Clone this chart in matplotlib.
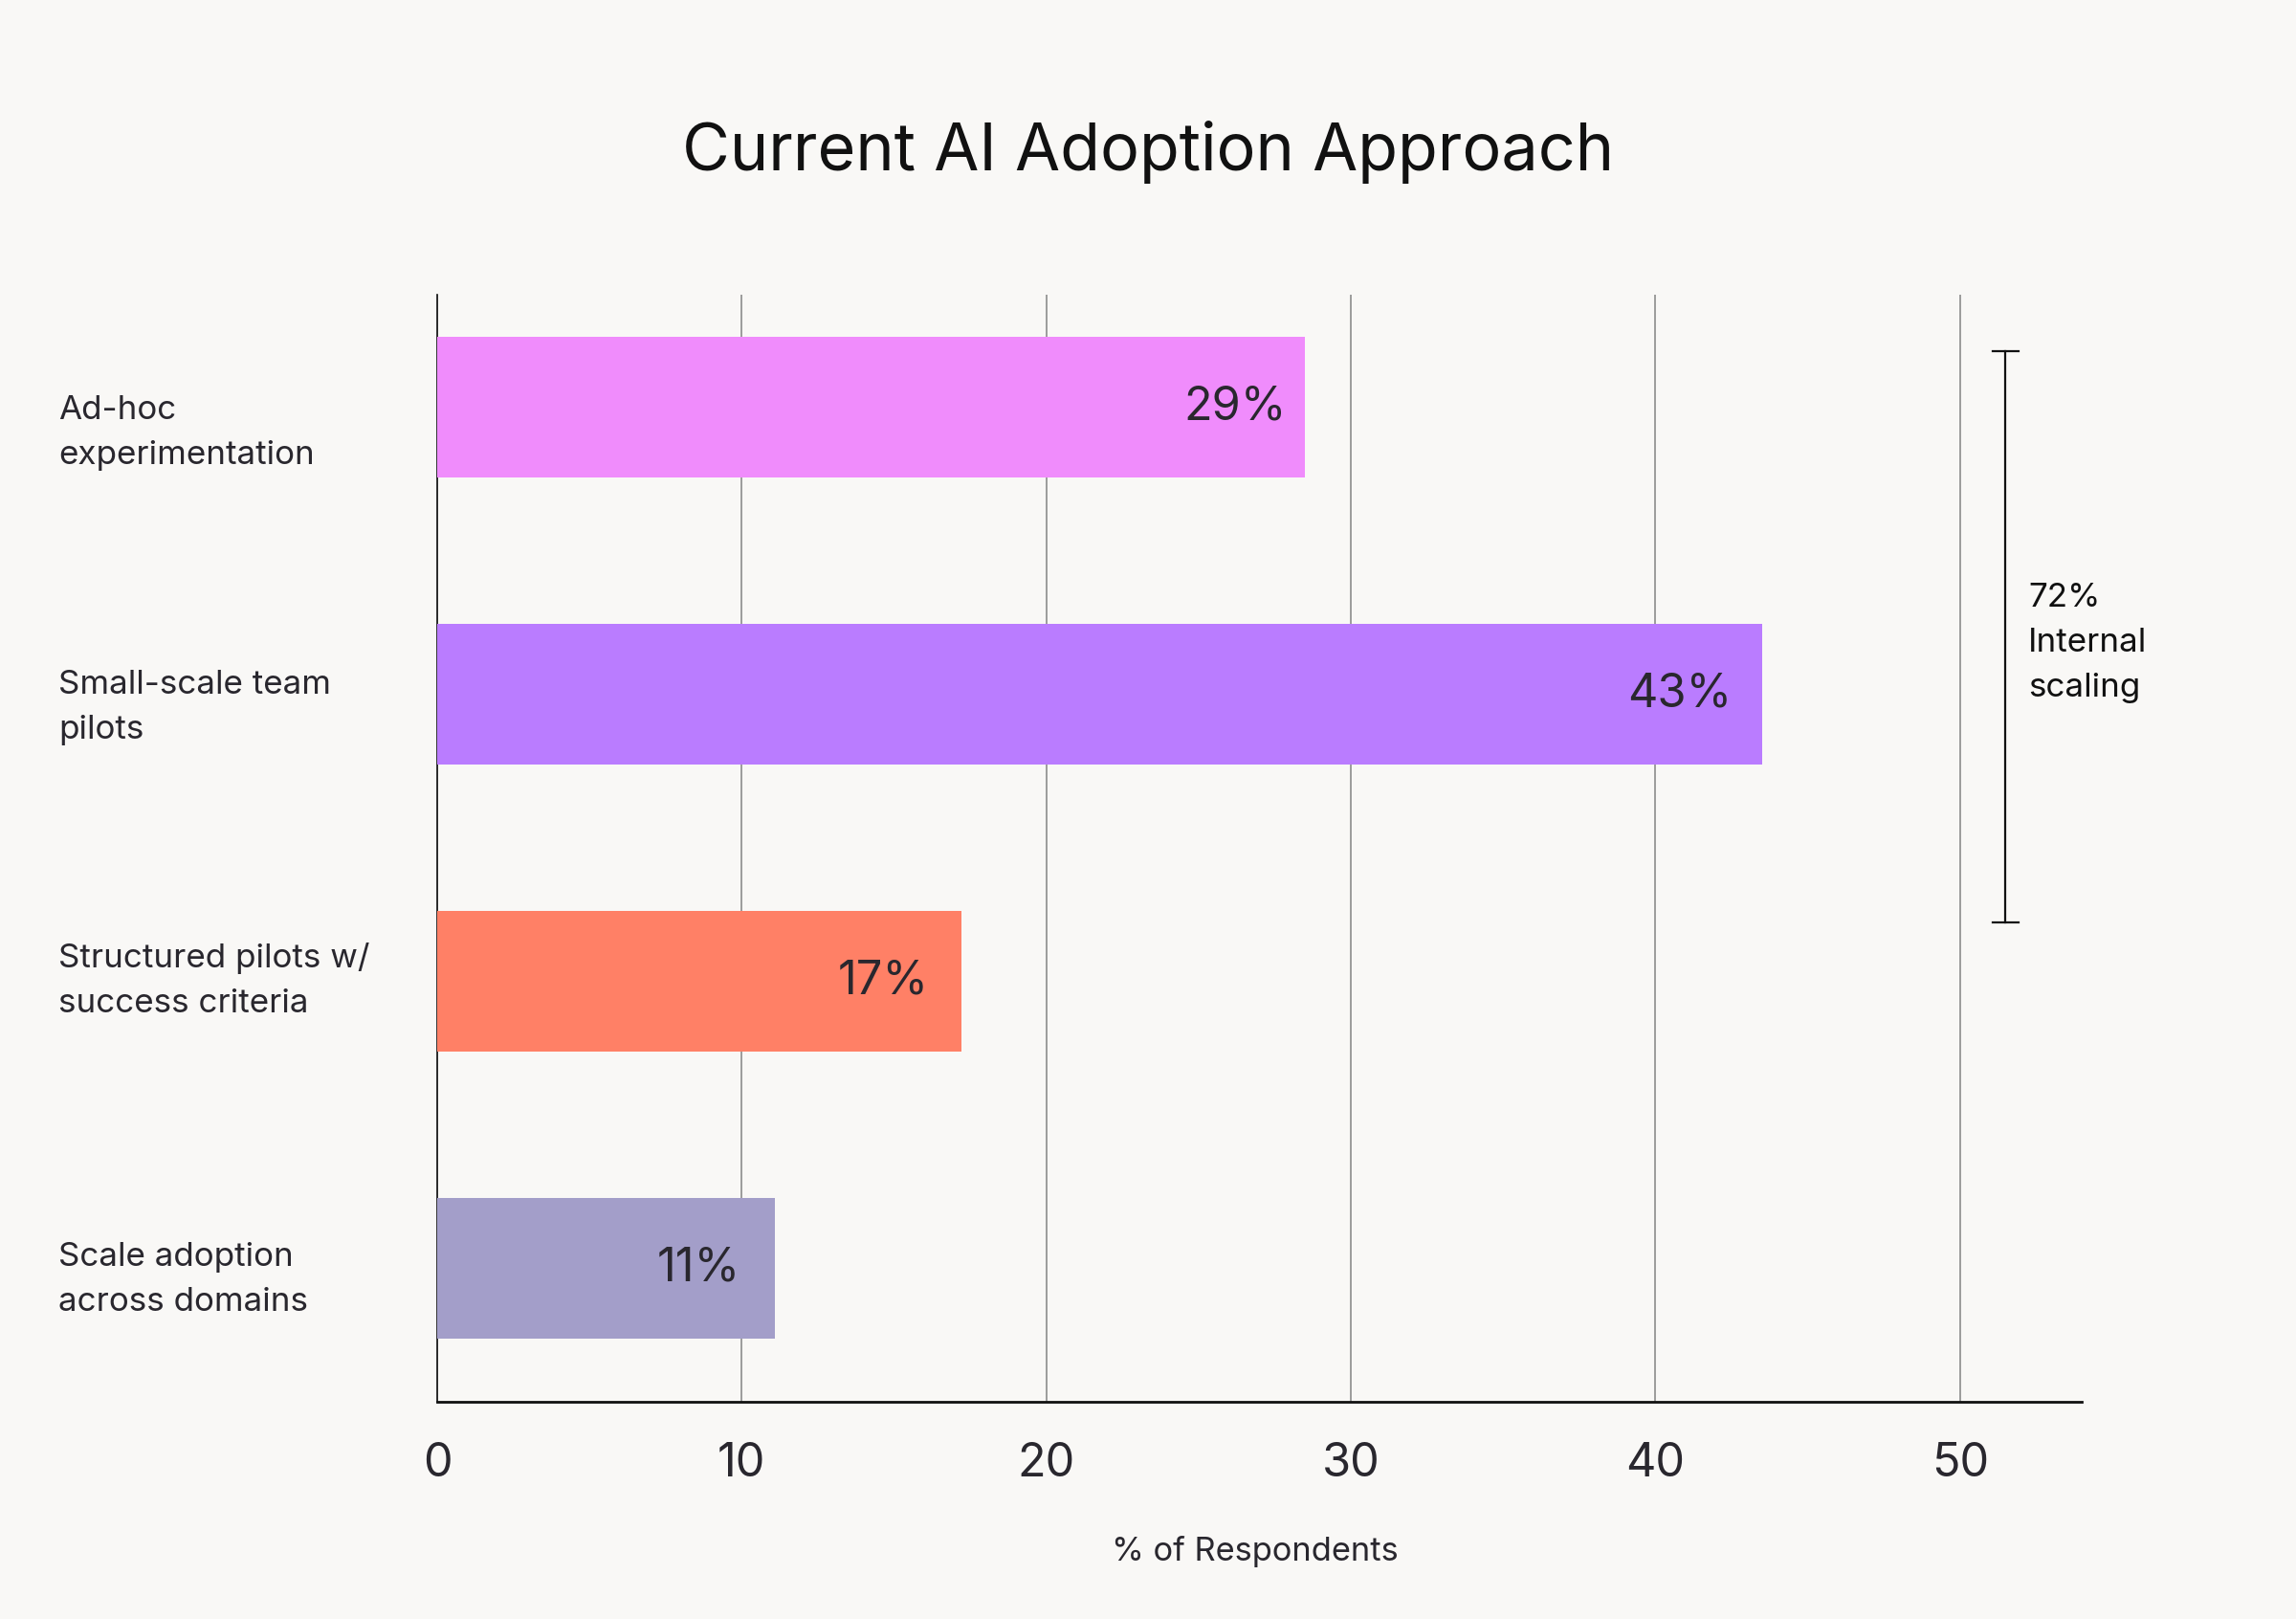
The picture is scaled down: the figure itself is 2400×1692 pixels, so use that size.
import matplotlib
matplotlib.use("Agg")
import matplotlib.pyplot as plt
import matplotlib.transforms as mtransforms

# ---- data ----
categories = ["Ad-hoc\nexperimentation", "Small-scale team\npilots",
              "Structured pilots w/\nsuccess criteria", "Scale adoption\nacross domains"]
values = [28.5, 43.5, 17.2, 11.1]
value_labels = ["29%", "43%", "17%", "11%"]
colors = ["#F08CFC", "#BA7CFF", "#FF8066", "#A39EC9"]
xticks = [0, 10, 20, 30, 40, 50]
bracket_label = "72%\nInternal\nscaling"
title = "Current AI Adoption Approach"
xlabel = "% of Respondents"

BG = "#F9F8F6"
TXT = "#29272E"
FONT = ["Inter", "DejaVu Sans"]
plt.rcParams["font.family"] = FONT

fig = plt.figure(figsize=(12, 8.46), dpi=200, facecolor=BG)
ax = fig.add_axes([0.1904, 0.1342, 0.7163, 0.6838], facecolor=BG)

ypos = list(range(len(categories)))
ax.barh(ypos, values, height=0.49, color=colors, zorder=3)

ax.set_xlim(0, 54)
ax.set_ylim(3.465, -0.392)
ax.set_xticks(xticks)
ax.set_xticklabels([str(t) for t in xticks], fontsize=17.5, color=TXT)
ax.set_yticks([])
ax.tick_params(axis="x", length=0, pad=15)
ax.xaxis.grid(True, color="#8c8c8c", linewidth=0.6, zorder=0)
ax.set_axisbelow(True)
for s in ["top", "right"]:
    ax.spines[s].set_visible(False)
ax.spines["left"].set_linewidth(0.6)
ax.spines["left"].set_color("#111111")
ax.spines["bottom"].set_linewidth(1.0)
ax.spines["bottom"].set_color("#111111")

# value labels inside bars
label_shift = [0.6, 1.0, 1.05, 1.15]
for y, v, lab, sh in zip(ypos, values, value_labels, label_shift):
    ax.text(v - sh, y, lab, ha="right", va="center", fontsize=17.5, color=TXT, zorder=4)

# category labels
cat_offset = [0.09, 0.045, 0.0, 0.04]
trans = mtransforms.blended_transform_factory(fig.transFigure, ax.transData)
for y, cat, off in zip(ypos, categories, cat_offset):
    ax.text(0.0254, y + off, cat, transform=trans, ha="left", va="center",
            fontsize=12.6, color=TXT, linespacing=1.6)

# bracket
bx = 51.5
y0, y1 = -0.195, 1.795
ax.plot([bx, bx], [y0, y1], color="#111111", lw=0.8, clip_on=False, zorder=5)
for yy in (y0, y1):
    ax.plot([bx - 0.42, bx + 0.42], [yy, yy], color="#111111", lw=0.8, clip_on=False, zorder=5)
ax.text(52.25, 0.82, bracket_label, ha="left", va="center", fontsize=12.6,
        color="#111111", linespacing=1.6)

fig.text(0.5, 0.906, title, ha="center", va="center", fontsize=24.6, color="#111111")
fig.text(0.5467, 0.0414, xlabel, ha="center", va="center", fontsize=12.4, color=TXT)

fig.savefig("out.png", dpi=200, facecolor=BG)
